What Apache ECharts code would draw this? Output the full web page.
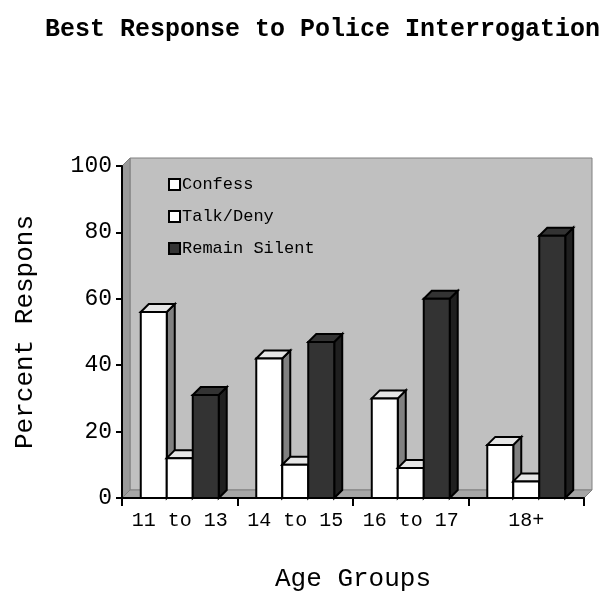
<!DOCTYPE html>
<html>
<head>
<meta charset="utf-8">
<script src="https://cdn.jsdelivr.net/npm/echarts@6/dist/echarts.min.js"></script>
<style>
  html, body { margin: 0; padding: 0; background: #fff; }
  #chart { width: 608px; height: 597px; }
</style>
</head>
<body>
<div id="chart"></div>
<script>
// data
let ageGroups = ['11 to 13', '14 to 15', '16 to 17', '18+'];
let confessData = [56, 42, 30, 16];
let talkDenyData = [12, 10, 9, 5];
let remainSilentData = [31, 47, 60, 79];
let yTicks = [0, 20, 40, 60, 80, 100];

let seriesNames = ['Confess', 'Talk/Deny', 'Remain Silent'];
let seriesData = [confessData, talkDenyData, remainSilentData];
// front, top, side
let faceColors = [
    ['#ffffff', '#e6e6e6', '#808080'],
    ['#ffffff', '#e6e6e6', '#808080'],
    ['#333333', '#333333', '#1f1f1f']
];

const FONT = "'Liberation Mono', 'Courier New', monospace";
const DEPTH = 8;

var myChart = echarts.init(document.getElementById('chart'));

/* back wall, side wall and floor of the 3d box */
function renderWall(params, api) {
    let c = params.coordSys;
    let x = c.x, y = c.y, w = c.width, h = c.height, d = DEPTH;
    return {
        type: 'group',
        children: [
            {
                type: 'rect',
                shape: { x: x + d, y: y - d, width: w, height: h },
                style: { fill: '#c0c0c0', stroke: '#808080', lineWidth: 1 }
            },
            {
                type: 'polygon',
                shape: { points: [[x, y], [x + d, y - d], [x + d, y + h - d], [x, y + h]] },
                style: { fill: '#9a9a9a', stroke: '#808080', lineWidth: 1 }
            },
            {
                type: 'polygon',
                shape: { points: [[x, y + h], [x + d, y + h - d], [x + w + d, y + h - d], [x + w, y + h]] },
                style: { fill: '#a6a6a6', stroke: '#808080', lineWidth: 1 }
            }
        ]
    };
}

/* one 3d bar: front face, top, right side */
function makeBarRenderer(sIdx) {
    return function (params, api) {
        let cat = api.value(0);
        let val = api.value(1);
        let base = api.coord([cat, 0]);
        let top = api.coord([cat, val]);
        let bw = api.size([1, 0])[0] * 0.225;
        let x0 = base[0] + (sIdx - 1.5) * bw;
        let x1 = x0 + bw;
        let yb = base[1], yt = top[1], d = DEPTH;
        let col = faceColors[sIdx];
        let line = { stroke: '#000', lineWidth: 2, lineJoin: 'miter' };
        return {
            type: 'group',
            children: [
                {
                    type: 'polygon',
                    shape: { points: [[x1, yt], [x1 + d, yt - d], [x1 + d, yb - d], [x1, yb]] },
                    style: Object.assign({ fill: col[2] }, line)
                },
                {
                    type: 'polygon',
                    shape: { points: [[x0, yt], [x0 + d, yt - d], [x1 + d, yt - d], [x1, yt]] },
                    style: Object.assign({ fill: col[1] }, line)
                },
                {
                    type: 'rect',
                    shape: { x: x0, y: yt, width: bw, height: yb - yt },
                    style: Object.assign({ fill: col[0] }, line)
                }
            ]
        };
    };
}

let series = [
    {
        type: 'custom',
        name: 'wall',
        silent: true,
        z: 0,
        clip: false,
        renderItem: renderWall,
        data: [[0, 0]]
    }
];
seriesNames.forEach((name, i) => {
    series.push({
        type: 'custom',
        name: name,
        z: 2 + i,
        clip: false,
        itemStyle: { color: faceColors[i][0] },
        renderItem: makeBarRenderer(i),
        data: seriesData[i].map((v, k) => [k, v])
    });
});

var option = {
    animation: false,
    title: {
        text: 'Best Response to Police Interrogation',
        left: 40,
        top: 12,
        textStyle: { fontFamily: FONT, fontSize: 25, fontWeight: 'bold', color: '#000' }
    },
    legend: {
        orient: 'vertical',
        left: 163,
        top: 171,
        itemGap: 15,
        itemWidth: 11,
        itemHeight: 11,
        icon: 'rect',
        itemStyle: { borderColor: '#000', borderWidth: 2 },
        textStyle: { fontFamily: FONT, fontSize: 17, color: '#000', padding: [0, 0, 0, -3] },
        data: seriesNames
    },
    grid: {
        left: 122,
        right: 24,
        top: 166,
        bottom: 99,
        outerBoundsMode: 'none',
        containLabel: false
    },
    xAxis: {
        type: 'category',
        data: ageGroups,
        name: 'Age Groups',
        nameLocation: 'middle',
        nameGap: 68,
        nameTextStyle: { fontFamily: FONT, fontSize: 26, color: '#000' },
        axisLine: { lineStyle: { color: '#000', width: 2 } },
        axisTick: { show: true, length: 8, lineStyle: { color: '#000', width: 2 } },
        axisLabel: { fontFamily: FONT, fontSize: 20, color: '#000', margin: 13, interval: 0, hideOverlap: false },
        splitLine: { show: false }
    },
    yAxis: {
        type: 'value',
        min: yTicks[0],
        max: yTicks[yTicks.length - 1],
        interval: 20,
        name: 'Percent Respons',
        nameLocation: 'middle',
        nameRotate: 90,
        nameGap: 84,
        nameTextStyle: { fontFamily: FONT, fontSize: 26, color: '#000' },
        axisLine: { show: true, lineStyle: { color: '#000', width: 2 } },
        axisTick: { show: true, length: 6, lineStyle: { color: '#000', width: 2 } },
        axisLabel: { fontFamily: FONT, fontSize: 23, color: '#000', margin: 10 },
        splitLine: { show: false }
    },
    series: series
};

myChart.setOption(option);
</script>
</body>
</html>
